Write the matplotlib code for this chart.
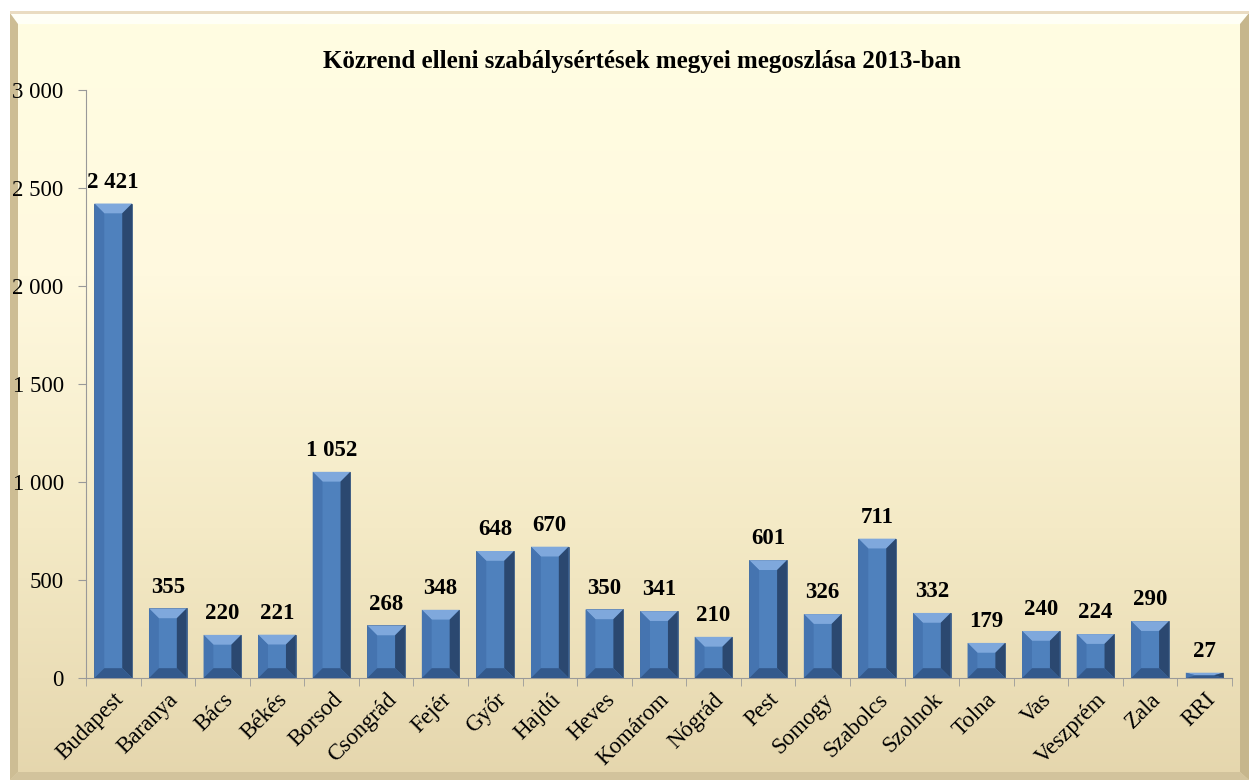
import numpy as np
import matplotlib
matplotlib.use('Agg')
import matplotlib.pyplot as plt
from matplotlib.patches import Polygon, Rectangle
from matplotlib.colors import LinearSegmentedColormap

# Data
megyek = ['Budapest', 'Baranya', 'Bács', 'Békés', 'Borsod', 'Csongrád', 'Fejér',
          'Győr', 'Hajdú', 'Heves', 'Komárom', 'Nógrád', 'Pest', 'Somogy',
          'Szabolcs', 'Szolnok', 'Tolna', 'Vas', 'Veszprém', 'Zala', 'RRI']
esetek = [2421, 355, 220, 221, 1052, 268, 348, 648, 670, 350, 341, 210,
          601, 326, 711, 332, 179, 240, 224, 290, 27]
yticks = [0, 500, 1000, 1500, 2000, 2500, 3000]
title = 'Közrend elleni szabálysértések megyei megoszlása 2013-ban'

plt.rcParams['font.family'] = ['Liberation Serif', 'DejaVu Serif']

fig = plt.figure(figsize=(12.53, 7.83), dpi=100)

# background panel with gradient and bevelled frame
bg = fig.add_axes([0, 0, 1, 1], zorder=0)
bg.set_xlim(0, 1253)
bg.set_ylim(783, 0)
bg.axis('off')
cmap = LinearSegmentedColormap.from_list('bg', ['#e5d6ad', '#f4eac6', '#fff9df', '#fffde2'])
grad = np.linspace(0, 1, 256).reshape(-1, 1)
bg.imshow(grad, cmap=cmap, aspect='auto', origin='lower', extent=[10, 1249, 780, 24])
bg.add_patch(Polygon([(10, 13), (1249, 13), (1240, 24), (18, 24)], color='#fffff6', lw=0))
bg.add_patch(Polygon([(10, 13), (18, 24), (18, 772), (10, 780)], color='#cdbd94', lw=0))
bg.add_patch(Polygon([(1249, 13), (1240, 24), (1240, 772), (1249, 780)], color='#c6b68c', lw=0))
bg.add_patch(Polygon([(10, 780), (18, 772), (1240, 772), (1249, 780)], color='#d2c39c', lw=0))
bg.add_patch(Rectangle((10, 11), 1239, 2.5, color='#eadcc2', lw=0))

ax = fig.add_axes([0.0686, 0.1341, 0.9146, 0.7509], zorder=1)
ax.patch.set_alpha(0)

x = np.arange(len(megyek))
w = 0.69
ax.bar(x, esetek, width=w, color='#4f81bd', edgecolor='#2f4f7a', linewidth=0.5, zorder=2)

# bevel effect
bx = 0.18
by = 50
for xi, v in zip(x, esetek):
    b = min(by, v / 2)
    l, r = xi - w / 2, xi + w / 2
    ax.add_patch(Polygon([(l, v), (r, v), (r - bx, v - b), (l + bx, v - b)],
                         closed=True, color='#7fa8dc', lw=0, zorder=3))
    ax.add_patch(Polygon([(r, v), (r, 0), (r - bx, b), (r - bx, v - b)],
                         closed=True, color='#2b4870', lw=0, zorder=3))
    ax.add_patch(Polygon([(l, v), (l, 0), (l + bx, b), (l + bx, v - b)],
                         closed=True, color='#4574b0', lw=0, zorder=3))
    ax.add_patch(Polygon([(l, 0), (r, 0), (r - bx, b), (l + bx, b)],
                         closed=True, color='#33598c', lw=0, zorder=3))
    ax.text(xi, v + 55, f'{v:,}'.replace(',', ' '), ha='center', va='bottom',
            fontsize=16.5, fontweight='bold', zorder=4)

ax.set_xlim(-0.5, len(megyek) - 0.5)
ax.set_ylim(0, 3000)
ax.set_yticks(yticks)
ax.set_yticklabels([f'{t:,}'.replace(',', ' ') for t in yticks], fontsize=16.5)
ax.set_xticks(np.arange(len(megyek) + 1) - 0.5, minor=True)
ax.set_xticks(x)
ax.set_xticklabels(megyek, rotation=45, ha='right', rotation_mode='anchor', fontsize=16.5)
ax.tick_params(axis='x', which='major', length=0, pad=8)
ax.tick_params(axis='x', which='minor', length=6, color='#999999')
ax.tick_params(axis='y', length=6, color='#999999', pad=10)
for s in ['top', 'right']:
    ax.spines[s].set_visible(False)
ax.spines['left'].set_color('#999999')
ax.spines['bottom'].set_color('#999999')

fig.text(0.512, 0.922, title, ha='center', va='center', fontsize=18, fontweight='bold')

fig.savefig('out.png', dpi=100)
